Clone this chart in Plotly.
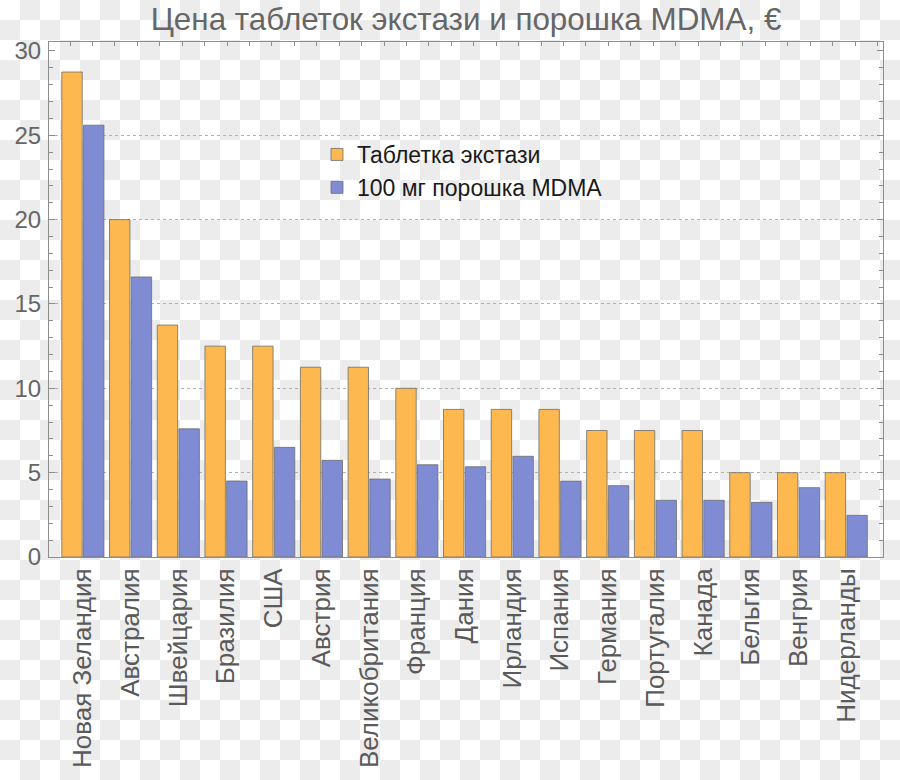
import plotly.graph_objects as go

countries = ["Новая Зеландия", "Австралия", "Швейцария", "Бразилия", "США", "Австрия",
             "Великобритания", "Франция", "Дания", "Ирландия", "Испания", "Германия",
             "Португалия", "Канада", "Бельгия", "Венгрия", "Нидерланды"]
ecstasy_pill = [28.75, 20, 13.75, 12.5, 12.5, 11.25, 11.25, 10, 8.75, 8.75, 8.75,
                7.5, 7.5, 7.5, 5, 5, 5]
mdma_100mg = [25.6, 16.6, 7.6, 4.5, 6.5, 5.73, 4.62, 5.47, 5.35, 5.97, 4.5,
              4.23, 3.36, 3.36, 3.24, 4.11, 2.47]
series_names = ["Таблетка экстази", "100 мг порошка MDMA"]
y_ticks = [0, 5, 10, 15, 20, 25, 30]
grid_vals = [5, 10, 15, 20, 25]

W, H = 900, 780
ML, MR, MT, MB = 49, 17, 42, 223
pw, ph = W - ML - MR, H - MT - MB

FONT = "Liberation Sans, Arial, sans-serif"
ORANGE = "#FDB94F"
BLUE = "#7F8CD4"
EDGE = "rgba(110,110,110,0.8)"
AXIS = "#8e8e8e"

fig = go.Figure()
fig.add_trace(go.Bar(x=countries, y=ecstasy_pill, name=series_names[0],
                     marker=dict(color=ORANGE, line=dict(color=EDGE, width=1))))
fig.add_trace(go.Bar(x=countries, y=mdma_100mg, name=series_names[1],
                     marker=dict(color=BLUE, line=dict(color=EDGE, width=1))))

# checkerboard background (transparent PNG look)
svg = ("<svg xmlns='http://www.w3.org/2000/svg' width='900' height='780'>"
       "<defs><pattern id='p' width='40' height='40' patternUnits='userSpaceOnUse'>"
       "<rect width='40' height='40' fill='%23ffffff'/>"
       "<rect x='20' y='0' width='20' height='20' fill='%23ececec'/>"
       "<rect x='0' y='20' width='20' height='20' fill='%23ececec'/>"
       "</pattern></defs><rect width='900' height='780' fill='url(%23p)'/></svg>")
src = "data:image/svg+xml;charset=utf-8," + svg.replace("<", "%3C").replace(">", "%3E").replace(" ", "%20")

fig.add_layout_image(dict(source=src, xref="paper", yref="paper",
                          x=-ML / pw, y=1 + MT / ph, sizex=W / pw, sizey=H / ph,
                          sizing="stretch", xanchor="left", yanchor="top", layer="below"))

fig.update_layout(
    width=W, height=H,
    margin=dict(l=ML, r=MR, t=MT, b=MB),
    paper_bgcolor="white",
    plot_bgcolor="rgba(0,0,0,0)",
    barmode="group", bargap=0.09, bargroupgap=0.06,
    title=dict(text="Цена таблеток экстази и порошка MDMA, €", xref="paper", x=0.5,
               xanchor="center", y=1 - 19 / H, yanchor="middle",
               font=dict(family=FONT, size=31.4, color="#666666")),
    font=dict(family=FONT),
    showlegend=True,
    legend=dict(x=(317 - ML) / pw, y=1 - (133 - MT) / ph, xanchor="left", yanchor="top",
                bgcolor="rgba(0,0,0,0)", font=dict(family=FONT, size=23, color="#1a1a1a"),
                itemclick=False),
    xaxis=dict(type="category", range=[-0.71, 16.77], showline=True, linecolor=AXIS,
               linewidth=1, mirror=True, ticks="", showgrid=False, tickangle=-90,
               tickfont=dict(family=FONT, size=26, color="#5a5a5a")),
    xaxis2=dict(overlaying="x", side="top", range=[-(70 - ML) / 22.43, (ML + pw - 70) / 22.43],
                dtick=1, tick0=0, ticks="inside", ticklen=4, tickcolor=AXIS,
                showticklabels=False, showgrid=False, zeroline=False, showline=False,
                anchor="y", fixedrange=True),
    yaxis=dict(range=[0, 30.53], tickvals=y_ticks, ticks="inside", ticklen=6,
               tickcolor=AXIS, showline=True, linecolor=AXIS, linewidth=1, mirror="ticks",
               showgrid=False, zeroline=False, ticklabelstandoff=2,
               minor=dict(dtick=1, ticks="inside", ticklen=4, tickcolor=AXIS, showgrid=False),
               tickfont=dict(family=FONT, size=24, color="#666666")),
    yaxis2=dict(overlaying="y", range=[0, 30.53], tickvals=grid_vals, showticklabels=False,
                ticks="", showgrid=True, gridcolor="#b0b0b0", griddash="dot", gridwidth=1,
                zeroline=False, showline=False, side="left", anchor="x"),
)

# invisible traces to activate the helper axes (top ticks, grid)
fig.add_trace(go.Scatter(x=[0], y=[0], xaxis="x2", yaxis="y", mode="markers",
                         marker=dict(opacity=0), showlegend=False, hoverinfo="skip"))
fig.add_trace(go.Scatter(x=[countries[0]], y=[0], xaxis="x", yaxis="y2", mode="markers",
                         marker=dict(opacity=0), showlegend=False, hoverinfo="skip"))

fig.write_html("out.html")
